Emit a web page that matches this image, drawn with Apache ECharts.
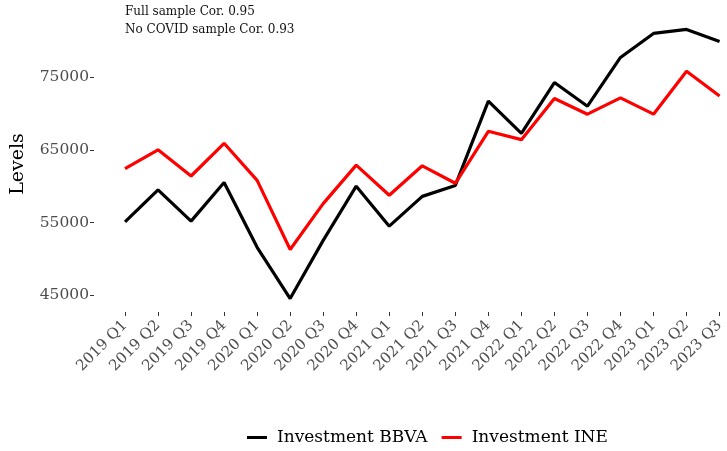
<!DOCTYPE html>
<html>
<head>
<meta charset="utf-8">
<script src="https://cdn.jsdelivr.net/npm/echarts@6/dist/echarts.min.js"></script>
<style>
  html, body { margin: 0; padding: 0; background: #fff; }
  #chart { width: 727px; height: 451px; }
</style>
</head>
<body>
<div id="chart"></div>
<script>
// quarters on the x axis
const quarters = [
  '2019 Q1', '2019 Q2', '2019 Q3', '2019 Q4',
  '2020 Q1', '2020 Q2', '2020 Q3', '2020 Q4',
  '2021 Q1', '2021 Q2', '2021 Q3', '2021 Q4',
  '2022 Q1', '2022 Q2', '2022 Q3', '2022 Q4',
  '2023 Q1', '2023 Q2', '2023 Q3'
]

const investmentBBVA = [
  55100, 59500, 55200, 60500, 51600, 44550, 52550, 60000, 54500, 58600,
  60100, 71700, 67250, 74250, 71000, 77700, 81000, 81550, 79900
]

const investmentINE = [
  62400, 65000, 61400, 65900, 60800, 51300, 57600, 62900, 58750, 62800,
  60400, 67550, 66400, 72050, 69900, 72150, 69900, 75800, 72400
]

const yTicks = [45000, 55000, 65000, 75000]

const notes = ['Full sample Cor. 0.95', 'No COVID sample Cor. 0.93']

const FONT = 'DejaVu Serif'

const chart = echarts.init(document.getElementById('chart'))

chart.setOption({
  animation: false,
  backgroundColor: '#fff',
  textStyle: { fontFamily: FONT },
  grid: {
    left: 125,
    right: 6,
    top: 16,
    bottom: 139
  },
  graphic: notes.map((t, i) => ({
    type: 'text',
    left: 125,
    top: 6 + i * 18,
    style: { text: t, font: '12px "' + FONT + '"', fill: '#111' }
  })),
  legend: {
    bottom: 0,
    left: 242,
    icon: 'rect',
    itemWidth: 20,
    itemHeight: 3,
    itemGap: 14,
    textStyle: { fontFamily: FONT, fontSize: 17, color: '#000', padding: [0, 0, 0, 5] },
    data: ['Investment BBVA', 'Investment INE']
  },
  xAxis: {
    type: 'category',
    data: quarters,
    boundaryGap: false,
    axisLine: { show: false },
    axisTick: {
      show: true,
      interval: 0,
      length: 4,
      lineStyle: { color: '#333' }
    },
    axisLabel: {
      interval: 0,
      rotate: 45,
      margin: 11,
      fontFamily: FONT,
      fontSize: 15,
      color: '#4d4d4d'
    },
    splitLine: { show: false }
  },
  yAxis: {
    type: 'value',
    min: 42700,
    max: 83400,
    offset: 31,
    name: 'Levels',
    nameLocation: 'middle',
    nameGap: 66,
    nameTextStyle: { fontFamily: FONT, fontSize: 19, color: '#000' },
    axisLine: { show: false },
    axisTick: {
      show: true,
      length: 4,
      customValues: yTicks,
      lineStyle: { color: '#333' }
    },
    axisLabel: {
      customValues: yTicks,
      formatter: v => String(v),
      margin: 5,
      fontFamily: FONT,
      fontSize: 15.5,
      color: '#4d4d4d'
    },
    splitLine: { show: false }
  },
  series: [
    {
      name: 'Investment BBVA',
      type: 'line',
      data: investmentBBVA,
      symbol: 'none',
      itemStyle: { color: '#000' },
      lineStyle: { color: '#000', width: 3.2 }
    },
    {
      name: 'Investment INE',
      type: 'line',
      data: investmentINE,
      symbol: 'none',
      itemStyle: { color: '#ff0000' },
      lineStyle: { color: '#ff0000', width: 3.2 }
    }
  ]
})
</script>
</body>
</html>
